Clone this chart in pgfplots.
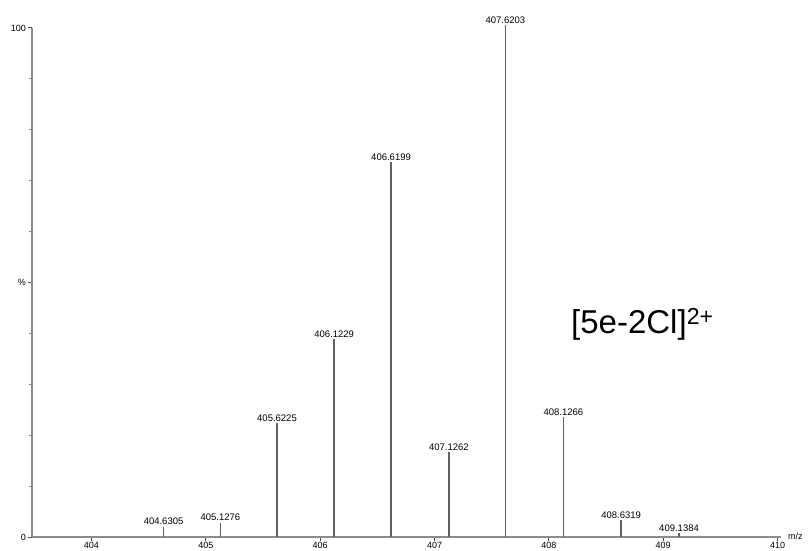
\documentclass[border=0pt]{standalone}
\usepackage{fontspec}
\setmainfont{Liberation Sans}
\usepackage{pgfplots}
\usepackage{pgfplotstable}
\pgfplotsset{compat=1.18}
\pgfplotstableread{
mz inten label
404.6305 2.0 404.6305
405.1276 2.8 405.1276
405.6225 22.4 405.6225
406.1229 38.9 406.1229
406.6199 73.6 406.6199
407.1262 16.7 407.1262
407.6203 100.5 407.6203
408.1266 23.6 408.1266
408.6319 3.3 408.6319
409.1384 0.8 409.1384
}\peaks
\begin{document}
\begin{tikzpicture}
\useasboundingbox (0pt,0pt) rectangle (808pt,551pt);
\begin{axis}[
  at={(32pt,14pt)}, anchor=south west,
  scale only axis, width=749pt, height=509pt,
  xmin=403.48, xmax=410.03, ymin=0, ymax=100,
  clip=false,
  axis x line=bottom, axis y line=left,
  axis line style={-, black!45, line width=1.2pt},
  xtick={404,405,406,407,408,409,410},
  ytick={0,50,100}, yticklabels={0,\%,100},
  minor ytick={10,20,30,40,60,70,80,90},
  tick align=outside,
  major tick length=4pt, minor tick length=3pt,
  tick style={black!70, line width=1pt},
  minor tick style={black!45, line width=0.9pt},
  /pgf/number format/assume math mode=true,
  /pgf/number format/.cd, fixed, precision=0, set thousands separator={},
  /pgfplots/.cd,
  xticklabel style={font=\fontsize{9}{10}\selectfont, inner sep=1pt},
  yticklabel style={font=\fontsize{9}{10}\selectfont, inner sep=2pt},
]
\addplot[ycomb, black!62, line width=1.5pt, mark=none,
  nodes near coords, point meta=explicit symbolic,
  every node near coord/.style={font=\fontsize{9.5}{10}\selectfont, black, anchor=south, inner sep=1pt}]
  table[x=mz, y=inten, meta=label] {\peaks};
\node[anchor=west, font=\fontsize{9}{10}\selectfont, inner sep=0pt] at (axis cs:410.03,0) [xshift=7pt, yshift=1pt] {m/z};
\end{axis}
\node[anchor=base west, font=\fontsize{33}{38}\selectfont, inner sep=0pt] at (571pt,217pt) {[5e-2Cl]\textsuperscript{2+}};
\end{tikzpicture}
\end{document}
